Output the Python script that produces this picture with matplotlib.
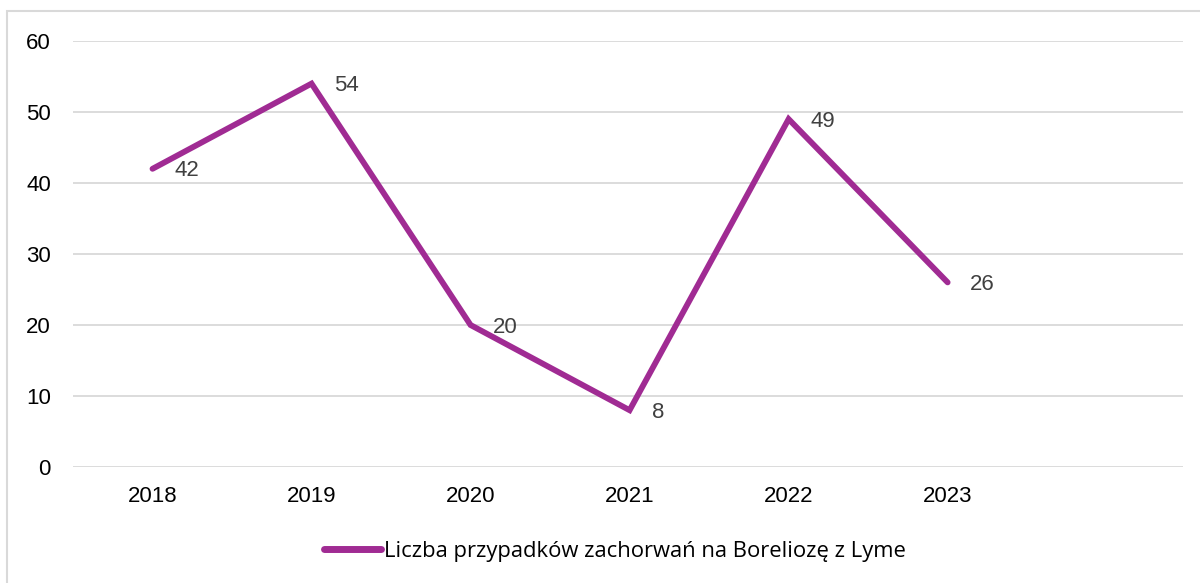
import matplotlib.pyplot as plt
import matplotlib.patches as patches

years = ['2018', '2019', '2020', '2021', '2022', '2023']
cases = [42, 54, 20, 8, 49, 26]
series_name = 'Liczba przypadków zachorwań na Boreliozę z Lyme'

fig = plt.figure(figsize=(12, 5.83), dpi=100)
ax = fig.add_axes([73/1200, 1-467/583, (1183-73)/1200, (467-41)/583])

# outer chart border (left and top visible only)
fig.patches.append(patches.Rectangle((7/1200, -0.1), 1.2, 1-11/583+0.1,
                                     transform=fig.transFigure, fill=False,
                                     edgecolor='#D9D9D9', linewidth=1.5))

x = list(range(len(years)))
ax.plot(x, cases, color='#A02B93', linewidth=4.2, solid_capstyle='round',
        solid_joinstyle='miter', label=series_name, zorder=3)

for xi, v in zip(x, cases):
    ax.annotate(str(v), (xi, v), textcoords='offset points', xytext=(16, -1.5),
                ha='left', va='center', fontsize=16, color='#404040',
                family='Liberation Sans')

ax.set_xlim(-0.5, 6.48)
ax.set_ylim(0, 60)
ax.set_yticks(range(0, 61, 10))
ax.set_xticks(x)
ax.set_xticklabels(years)
ax.grid(axis='y', color='#D9D9D9', linewidth=1.3)
ax.set_axisbelow(True)
for s in ax.spines.values():
    s.set_visible(False)
ax.tick_params(length=0, labelsize=16, colors='black')
ax.tick_params(axis='y', pad=16)
ax.tick_params(axis='x', pad=14)
for lab in ax.get_xticklabels() + ax.get_yticklabels():
    lab.set_family('Liberation Sans')

leg = fig.legend(loc='center', bbox_to_anchor=(615/1200, 1-551/583), frameon=False,
                 prop={'family': 'Open Sans', 'size': 15.8}, handlelength=2.6,
                 handletextpad=0.15)
for h in leg.get_lines():
    h.set_linewidth(5)
    h.set_solid_capstyle('round')

fig.savefig('out.png', dpi=100)
